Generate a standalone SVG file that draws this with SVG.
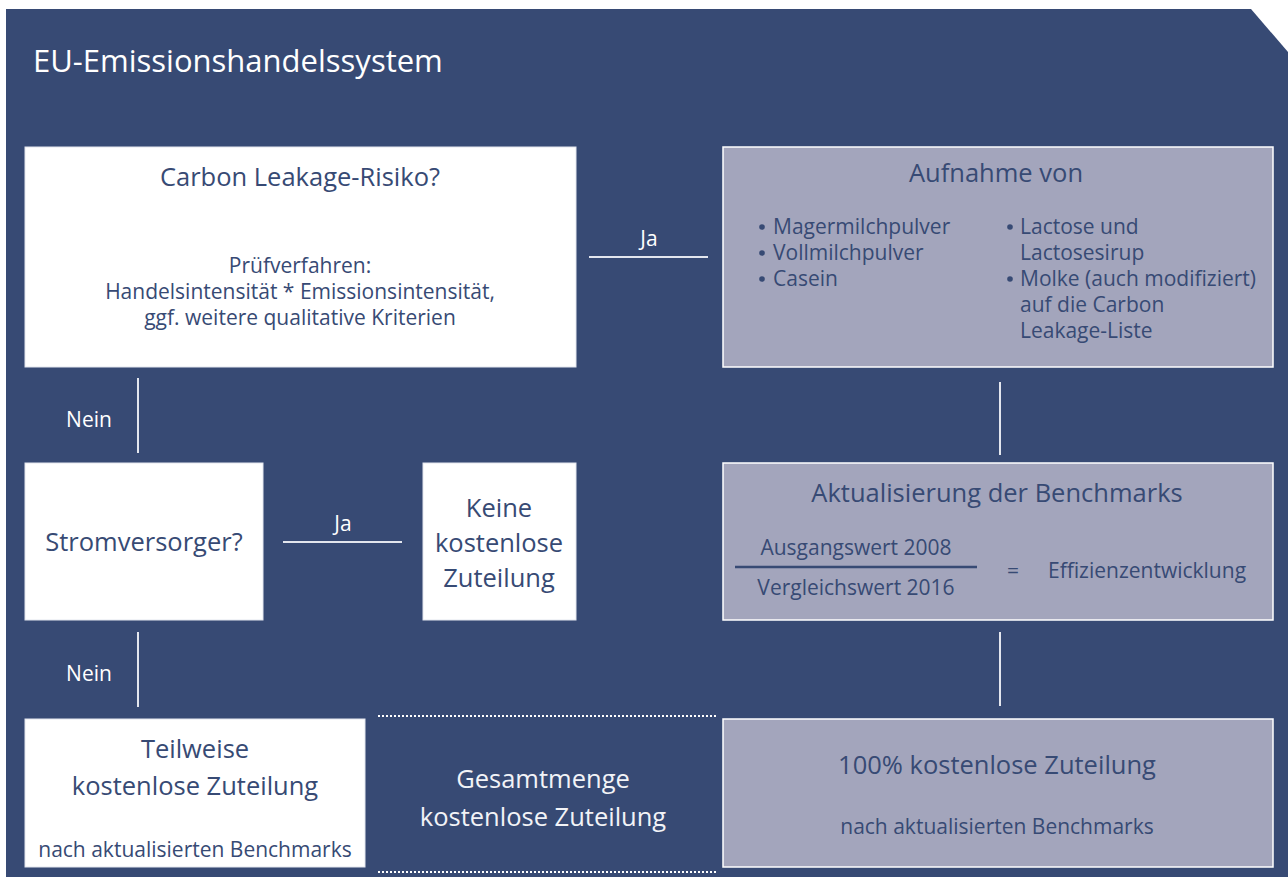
<svg xmlns="http://www.w3.org/2000/svg" width="1288" height="877" viewBox="0 0 1288 877">
<style>
  text { font-family: "Open Sans", "Noto Sans", "DejaVu Sans", sans-serif; }
  .h { font-size: 25.5px; fill: #374A74; text-anchor: middle; }
  .b { font-size: 21px; fill: #374A74; }
  .bc { font-size: 21px; fill: #374A74; text-anchor: middle; }
  .lbl { font-size: 21px; fill: #FFFFFF; text-anchor: middle; }
  .white { fill: #FFFFFF; stroke: #E3E6EE; stroke-width: 1; }
  .grey { fill: #A3A5BC; stroke: #FFFFFF; stroke-width: 1.5; }
  .con { stroke: #E3E6EE; stroke-width: 2; fill: none; }
  .dot { stroke: #FFFFFF; stroke-width: 2; stroke-dasharray: 2 2; fill: none; }
  .bul { fill: #374A74; }
</style>
<rect x="0" y="0" width="1288" height="877" fill="#FFFFFF"/>
<polygon points="6,9 1251,9 1288,52 1288,877 6,877" fill="#374A74"/>
<text x="33" y="72" font-size="31" fill="#FFFFFF">EU-Emissionshandelssystem</text>

<g id="connectors">
  <line class="con" x1="589" y1="257" x2="708" y2="257"/>
  <line class="con" x1="138" y1="378" x2="138" y2="453"/>
  <line class="con" x1="283" y1="542" x2="402" y2="542"/>
  <line class="con" x1="138" y1="632" x2="138" y2="707"/>
  <line class="con" x1="1000" y1="382" x2="1000" y2="455"/>
  <line class="con" x1="1000" y1="632" x2="1000" y2="706"/>
  <line class="dot" x1="378" y1="716" x2="716" y2="716"/>
  <line class="dot" x1="378" y1="872" x2="716" y2="872"/>
  <text class="lbl" x="649" y="246">Ja</text>
  <text class="lbl" x="89" y="427">Nein</text>
  <text class="lbl" x="343" y="531">Ja</text>
  <text class="lbl" x="89" y="681">Nein</text>
</g>

<g id="carbon-leakage">
  <rect class="white" x="25" y="147" width="551" height="220"/>
  <text class="h" x="300" y="186">Carbon Leakage-Risiko?</text>
  <text class="bc" x="300" y="273">Prüfverfahren:</text>
  <text class="bc" x="300" y="299">Handelsintensität * Emissionsintensität,</text>
  <text class="bc" x="300" y="325">ggf. weitere qualitative Kriterien</text>
</g>

<g id="aufnahme">
  <rect class="grey" x="723" y="147" width="550" height="220"/>
  <text class="h" x="996" y="182">Aufnahme von</text>
  <circle class="bul" cx="762" cy="227" r="2.8"/>
  <text class="b" x="773" y="234">Magermilchpulver</text>
  <circle class="bul" cx="762" cy="253" r="2.8"/>
  <text class="b" x="773" y="260">Vollmilchpulver</text>
  <circle class="bul" cx="762" cy="279" r="2.8"/>
  <text class="b" x="773" y="286">Casein</text>
  <circle class="bul" cx="1010" cy="227" r="2.8"/>
  <text class="b" x="1020" y="234">Lactose und</text>
  <text class="b" x="1020" y="260">Lactosesirup</text>
  <circle class="bul" cx="1010" cy="279" r="2.8"/>
  <text class="b" x="1020" y="286">Molke (auch modifiziert)</text>
  <text class="b" x="1020" y="312">auf die Carbon</text>
  <text class="b" x="1020" y="338">Leakage-Liste</text>
</g>

<g id="stromversorger">
  <rect class="white" x="25" y="463" width="238" height="157"/>
  <text class="h" x="144" y="551">Stromversorger?</text>
</g>

<g id="keine">
  <rect class="white" x="423" y="463" width="153" height="157"/>
  <text class="h" x="499" y="517">Keine</text>
  <text class="h" x="499" y="552">kostenlose</text>
  <text class="h" x="499" y="587">Zuteilung</text>
</g>

<g id="aktualisierung">
  <rect class="grey" x="723" y="463" width="550" height="157"/>
  <text class="h" x="997" y="502">Aktualisierung der Benchmarks</text>
  <text class="bc" x="856" y="555">Ausgangswert 2008</text>
  <line x1="735" y1="567" x2="977" y2="567" stroke="#374A74" stroke-width="2.5"/>
  <text class="bc" x="856" y="595">Vergleichswert 2016</text>
  <text class="bc" x="1013" y="578">=</text>
  <text class="b" x="1048" y="578">Effizienzentwicklung</text>
</g>

<g id="teilweise">
  <rect class="white" x="25" y="719" width="340" height="148"/>
  <text class="h" x="195" y="758">Teilweise</text>
  <text class="h" x="195" y="795">kostenlose Zuteilung</text>
  <text class="bc" x="195" y="857">nach aktualisierten Benchmarks</text>
</g>

<g id="gesamtmenge">
  <text class="h" x="543" y="788" style="fill:#F2F3F7">Gesamtmenge</text>
  <text class="h" x="543" y="826" style="fill:#F2F3F7">kostenlose Zuteilung</text>
</g>

<g id="hundert">
  <rect class="grey" x="723" y="719" width="550" height="148"/>
  <text class="h" x="997" y="774">100% kostenlose Zuteilung</text>
  <text class="bc" x="997" y="834">nach aktualisierten Benchmarks</text>
</g>
</svg>
